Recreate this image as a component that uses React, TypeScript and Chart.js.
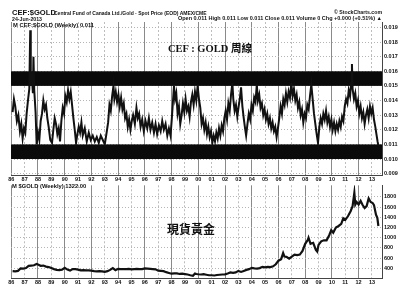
import React, { useEffect, useRef } from "react";
import { Chart, registerables } from "chart.js";

Chart.register(...registerables);

// CEF:$GOLD weekly ratio (decimal year, value)
const ratioDates = [
  1986.1, 1986.2, 1986.3, 1986.42, 1986.53, 1986.65, 1986.75, 1986.85, 1986.95, 1987.05,
  1987.15, 1987.25, 1987.35, 1987.42, 1987.46, 1987.55, 1987.62, 1987.66, 1987.72, 1987.82,
  1987.9, 1988.0, 1988.1, 1988.2, 1988.3, 1988.4, 1988.5, 1988.6, 1988.7, 1988.8,
  1988.92, 1989.05, 1989.15, 1989.25, 1989.35, 1989.45, 1989.55, 1989.65, 1989.75, 1989.85,
  1989.95, 1990.05, 1990.15, 1990.25, 1990.35, 1990.45, 1990.55, 1990.65, 1990.75, 1990.85,
  1990.95, 1991.05, 1991.15, 1991.25, 1991.35, 1991.5, 1991.65, 1991.8, 1991.95, 1992.1,
  1992.25, 1992.4, 1992.55, 1992.7, 1992.85, 1993.0, 1993.12, 1993.25, 1993.35, 1993.45,
  1993.55, 1993.65, 1993.72, 1993.82, 1993.92, 1994.02, 1994.12, 1994.22, 1994.32, 1994.42,
  1994.52, 1994.62, 1994.72, 1994.82, 1994.92, 1995.02, 1995.12, 1995.25, 1995.37, 1995.47,
  1995.57, 1995.68, 1995.8, 1995.92, 1996.05, 1996.18, 1996.3, 1996.42, 1996.55, 1996.68,
  1996.8, 1996.92, 1997.05, 1997.18, 1997.3, 1997.42, 1997.55, 1997.68, 1997.8, 1997.92,
  1998.02, 1998.1, 1998.18, 1998.26, 1998.35, 1998.45, 1998.55, 1998.65, 1998.75, 1998.85,
  1998.95, 1999.05, 1999.15, 1999.25, 1999.35, 1999.45, 1999.55, 1999.65, 1999.75, 1999.85,
  1999.95, 2000.05, 2000.15, 2000.25, 2000.35, 2000.45, 2000.55, 2000.65, 2000.75, 2000.85,
  2000.95, 2001.05, 2001.15, 2001.25, 2001.35, 2001.45, 2001.55, 2001.65, 2001.75, 2001.85,
  2001.95, 2002.05, 2002.15, 2002.25, 2002.35, 2002.45, 2002.55, 2002.62, 2002.72, 2002.82,
  2002.92, 2003.02, 2003.12, 2003.2, 2003.3, 2003.4, 2003.5, 2003.58, 2003.68, 2003.78,
  2003.88, 2003.98, 2004.08, 2004.18, 2004.28, 2004.38, 2004.46, 2004.56, 2004.66, 2004.76,
  2004.86, 2004.96, 2005.06, 2005.16, 2005.26, 2005.36, 2005.46, 2005.56, 2005.66, 2005.76,
  2005.86, 2005.96, 2006.06, 2006.16, 2006.26, 2006.36, 2006.46, 2006.56, 2006.66, 2006.76,
  2006.86, 2006.96, 2007.06, 2007.16, 2007.26, 2007.36, 2007.46, 2007.56, 2007.66, 2007.76,
  2007.86, 2007.96, 2008.06, 2008.16, 2008.26, 2008.36, 2008.46, 2008.56, 2008.66, 2008.76,
  2008.86, 2008.96, 2009.06, 2009.16, 2009.26, 2009.36, 2009.46, 2009.56, 2009.66, 2009.76,
  2009.86, 2009.96, 2010.06, 2010.16, 2010.26, 2010.36, 2010.46, 2010.56, 2010.66, 2010.76,
  2010.86, 2010.96, 2011.06, 2011.16, 2011.26, 2011.36, 2011.44, 2011.5, 2011.55, 2011.65,
  2011.75, 2011.85, 2011.95, 2012.05, 2012.15, 2012.25, 2012.35, 2012.45, 2012.55, 2012.65,
  2012.75, 2012.85, 2012.95, 2013.05, 2013.15, 2013.25, 2013.35, 2013.42, 2013.48,
];
const ratioValues = [
  0.0132, 0.0141, 0.0136, 0.0126, 0.013, 0.0119, 0.0124, 0.0114, 0.0121, 0.0118,
  0.0131, 0.014, 0.0148, 0.0188, 0.015, 0.0155, 0.0145, 0.017, 0.0147, 0.0132,
  0.011, 0.0118, 0.0113, 0.0126, 0.0131, 0.014, 0.0134, 0.0137, 0.0128, 0.0122,
  0.0113, 0.0111, 0.012, 0.0128, 0.0124, 0.0117, 0.0121, 0.0112, 0.0126, 0.0135,
  0.0131, 0.0143, 0.0139, 0.0147, 0.0141, 0.0146, 0.0137, 0.0128, 0.012, 0.0111,
  0.0117, 0.0122, 0.0118, 0.0125, 0.0116, 0.0121, 0.0112, 0.0118, 0.0113, 0.0116,
  0.0112, 0.0115, 0.0111, 0.0116, 0.0113, 0.011, 0.0117, 0.0125, 0.0137, 0.0133,
  0.0143, 0.015, 0.0141, 0.0146, 0.0139, 0.0144, 0.0136, 0.0142, 0.0134, 0.0138,
  0.0128, 0.0131, 0.0122, 0.0127, 0.012, 0.0126, 0.013, 0.0124, 0.0135, 0.0128,
  0.0131, 0.0122, 0.0127, 0.0119, 0.0126, 0.0121, 0.0128, 0.012, 0.0125, 0.0118,
  0.0124, 0.0117, 0.0123, 0.0119, 0.0126, 0.012, 0.0124, 0.0116, 0.0121, 0.0116,
  0.0128, 0.0139, 0.015, 0.0141, 0.0145, 0.0131, 0.0136, 0.0124, 0.013, 0.0138,
  0.0132, 0.0141, 0.0133, 0.0136, 0.0129, 0.0139, 0.0144, 0.0137, 0.0146, 0.014,
  0.015, 0.0141, 0.0135, 0.0124, 0.0128, 0.012, 0.0125, 0.0117, 0.0122, 0.0115,
  0.0119, 0.0111, 0.0116, 0.0112, 0.0118, 0.0114, 0.0121, 0.0116, 0.0123, 0.0119,
  0.0128, 0.0133, 0.0127, 0.0138, 0.0133, 0.0144, 0.0152, 0.0141, 0.0133, 0.0137,
  0.0129, 0.0136, 0.0142, 0.0149, 0.0136, 0.0128, 0.0121, 0.0116, 0.0124, 0.0131,
  0.0127, 0.0137, 0.0133, 0.0142, 0.0139, 0.0151, 0.014, 0.0144, 0.0135, 0.0138,
  0.013, 0.0134, 0.0127, 0.0131, 0.0124, 0.0128, 0.0121, 0.0125, 0.0119, 0.0122,
  0.0115, 0.0121, 0.0128, 0.0136, 0.0131, 0.0141, 0.0137, 0.0145, 0.0139, 0.0146,
  0.0142, 0.0152, 0.0143, 0.0148, 0.014, 0.0144, 0.0135, 0.0139, 0.013, 0.0134,
  0.0125, 0.0131, 0.0128, 0.0137, 0.0134, 0.0143, 0.0151, 0.0141, 0.0131, 0.0124,
  0.0117, 0.0111, 0.0122, 0.0128, 0.0124, 0.0131, 0.0127, 0.0133, 0.0125, 0.0129,
  0.0122, 0.0127, 0.012, 0.0125, 0.0119, 0.0124, 0.012, 0.0126, 0.0122, 0.0129,
  0.0126, 0.0136, 0.0141, 0.0138, 0.0147, 0.0143, 0.0152, 0.0165, 0.0148, 0.0141,
  0.0145, 0.0136, 0.014, 0.0131, 0.0136, 0.0128, 0.0132, 0.0124, 0.013, 0.0134,
  0.0128, 0.0136, 0.0131, 0.0135, 0.0127, 0.0122, 0.0116, 0.0112, 0.0109,
];

// $GOLD weekly (decimal year, USD)
const goldDates = [
  1986.1, 1986.3, 1986.5, 1986.7, 1986.9, 1987.1, 1987.3, 1987.5, 1987.7, 1987.9,
  1988.0, 1988.2, 1988.4, 1988.6, 1988.8, 1989.0, 1989.2, 1989.4, 1989.6, 1989.8,
  1990.0, 1990.2, 1990.4, 1990.6, 1990.8, 1991.0, 1991.2, 1991.4, 1991.6, 1991.8,
  1992.0, 1992.2, 1992.4, 1992.6, 1992.8, 1993.0, 1993.2, 1993.4, 1993.6, 1993.8,
  1994.0, 1994.2, 1994.4, 1994.6, 1994.8, 1995.0, 1995.2, 1995.4, 1995.6, 1995.8,
  1996.0, 1996.2, 1996.4, 1996.6, 1996.8, 1997.0, 1997.2, 1997.4, 1997.6, 1997.8,
  1998.0, 1998.2, 1998.4, 1998.6, 1998.8, 1999.0, 1999.2, 1999.4, 1999.6, 1999.75,
  1999.85, 2000.0, 2000.2, 2000.4, 2000.6, 2000.8, 2001.0, 2001.2, 2001.4, 2001.6,
  2001.8, 2002.0, 2002.2, 2002.4, 2002.6, 2002.8, 2003.0, 2003.2, 2003.4, 2003.6,
  2003.8, 2004.0, 2004.2, 2004.4, 2004.6, 2004.8, 2005.0, 2005.2, 2005.4, 2005.6,
  2005.8, 2006.0, 2006.2, 2006.35, 2006.45, 2006.6, 2006.8, 2007.0, 2007.2, 2007.4,
  2007.6, 2007.8, 2008.0, 2008.2, 2008.25, 2008.4, 2008.6, 2008.8, 2008.9, 2009.0,
  2009.2, 2009.4, 2009.6, 2009.8, 2009.95, 2010.1, 2010.3, 2010.5, 2010.7, 2010.85,
  2011.0, 2011.2, 2011.4, 2011.55, 2011.68, 2011.75, 2011.85, 2012.0, 2012.15, 2012.3,
  2012.45, 2012.6, 2012.75, 2012.9, 2013.05, 2013.15, 2013.3, 2013.4, 2013.48,
];
const goldValues = [
  345, 340, 350, 400, 395, 405, 450, 455, 460, 485,
  475, 450, 455, 435, 425, 405, 385, 370, 365, 375,
  410, 375, 355, 385, 385, 375, 360, 365, 360, 360,
  355, 345, 340, 345, 340, 330, 345, 370, 405, 365,
  390, 385, 385, 385, 390, 380, 385, 390, 385, 385,
  400, 395, 390, 385, 380, 355, 350, 345, 325, 310,
  295, 300, 300, 290, 295, 287, 280, 265, 255, 300,
  290, 285, 280, 285, 275, 265, 265, 260, 270, 275,
  280, 282, 300, 320, 310, 320, 350, 330, 350, 370,
  385, 410, 400, 395, 405, 430, 420, 430, 425, 440,
  480, 550, 580, 700, 630, 625, 590, 630, 670, 660,
  670, 740, 880, 960, 1000, 880, 900, 760, 730, 860,
  930, 950, 950, 1050, 1150, 1100, 1200, 1230, 1270, 1380,
  1350, 1420, 1520, 1620, 1880, 1650, 1700, 1650, 1720, 1640,
  1580, 1620, 1770, 1700, 1680, 1640, 1450, 1390, 1230,
];

const yearTicks = [
  1986, 1987, 1988, 1989, 1990, 1991, 1992, 1993, 1994, 1995, 1996, 1997, 1998, 1999,
  2000, 2001, 2002, 2003, 2004, 2005, 2006, 2007, 2008, 2009, 2010, 2011, 2012, 2013,
];
const ratioTicks = [0.009, 0.01, 0.011, 0.012, 0.013, 0.014, 0.015, 0.016, 0.017, 0.018, 0.019];
const goldTicks = [400, 600, 800, 1000, 1200, 1400, 1600, 1800];
const upperBand = [0.015, 0.016];
const lowerBand = [0.01, 0.011];

const SANS = '"Liberation Sans", Arial, sans-serif';

function xScale(height: number) {
  return {
    type: "linear" as const,
    min: 1985.98,
    max: 2013.75,
    afterBuildTicks: (s: any) => {
      s.ticks = yearTicks.map((v) => ({ value: v }));
    },
    afterFit: (s: any) => {
      s.height = height;
    },
    ticks: {
      autoSkip: false,
      maxRotation: 0,
      padding: 1,
      color: "#111",
      font: { family: SANS, size: 5.5, weight: "bold" as const },
      callback: (v: any) => String(Number(v) % 100).padStart(2, "0"),
    },
    grid: {
      drawTicks: false,
      color: (c: any) => (c.tick && c.tick.value % 2 === 0 ? "#8a8a8a" : "#bdbdbd"),
      lineWidth: 1,
    },
    border: {
      display: true,
      color: "#444",
      dash: (c: any) => (c.tick && c.tick.value % 2 === 0 ? [] : [2, 2]),
    },
  };
}

function yScale(min: number, max: number, ticks: number[], fmt: (v: number) => string) {
  return {
    position: "right" as const,
    min,
    max,
    afterBuildTicks: (s: any) => {
      s.ticks = ticks.map((v) => ({ value: v }));
    },
    afterFit: (s: any) => {
      s.width = 32;
    },
    ticks: {
      padding: 2,
      color: "#111",
      font: { family: SANS, size: 5.5, weight: "bold" as const },
      callback: (v: any) => fmt(Number(v)),
    },
    grid: { drawTicks: false, color: "#b5b5b5", lineWidth: 1 },
    border: { display: true, color: "#444", dash: [1, 2] },
  };
}

const bandsPlugin = {
  id: "bands",
  beforeDatasetsDraw(chart: any) {
    const { ctx, chartArea, scales } = chart;
    const y = scales.y;
    ctx.save();
    ctx.fillStyle = "#0a0a0a";
    for (const band of [upperBand, lowerBand]) {
      const top = y.getPixelForValue(band[1]);
      const bot = y.getPixelForValue(band[0]);
      ctx.fillRect(chartArea.left, top, chartArea.right - chartArea.left, bot - top);
    }
    ctx.restore();
  },
};

function txt(left: number, top: number, size: number, extra: any = {}): React.CSSProperties {
  return {
    position: "absolute",
    left,
    top,
    fontSize: size,
    fontWeight: "bold",
    fontFamily: SANS,
    lineHeight: 1,
    whiteSpace: "nowrap",
    color: "#111",
    ...extra,
  };
}

export default function App() {
  const topRef = useRef<HTMLCanvasElement>(null);
  const botRef = useRef<HTMLCanvasElement>(null);

  useEffect(() => {
    const c1 = new Chart(topRef.current as HTMLCanvasElement, {
      type: "line",
      data: {
        datasets: [
          {
            data: ratioDates.map((d, i) => ({ x: d, y: ratioValues[i] })),
            borderColor: "#111",
            borderWidth: 2,
            pointRadius: 0,
            tension: 0,
          },
        ],
      },
      options: {
        animation: false,
        responsive: false,
        layout: { padding: { left: 11, top: 22, right: 0, bottom: 0 } },
        plugins: { legend: { display: false }, tooltip: { enabled: false } },
        scales: {
          x: xScale(11) as any,
          y: yScale(0.008906, 0.01937, ratioTicks, (v) => v.toFixed(3)) as any,
        },
      },
      plugins: [bandsPlugin],
    });
    const c2 = new Chart(botRef.current as HTMLCanvasElement, {
      type: "line",
      data: {
        datasets: [
          {
            data: goldDates.map((d, i) => ({ x: d, y: goldValues[i] })),
            borderColor: "#111",
            borderWidth: 2.2,
            pointRadius: 0,
            tension: 0,
          },
        ],
      },
      options: {
        animation: false,
        responsive: false,
        layout: { padding: { left: 11, top: 2, right: 0, bottom: 0 } },
        plugins: { legend: { display: false }, tooltip: { enabled: false } },
        scales: {
          x: xScale(25) as any,
          y: yScale(211, 2027, goldTicks, (v) => String(v)) as any,
        },
      },
    });
    return () => {
      c1.destroy();
      c2.destroy();
    };
  }, []);

  return (
    <div
      style={{
        position: "fixed",
        left: 0,
        top: 0,
        width: 414,
        height: 303,
        background: "#fff",
        overflow: "hidden",
      }}
    >
      <canvas
        ref={topRef}
        width={414}
        height={186}
        style={{ position: "absolute", left: 0, top: 0, width: 414, height: 186 }}
      />
      <canvas
        ref={botRef}
        width={414}
        height={123}
        style={{ position: "absolute", left: 0, top: 180, width: 414, height: 123 }}
      />
      <div style={txt(12, 8.5, 7.6)}>CEF:$GOLD</div>
      <div style={txt(54, 10.5, 5)}>Central Fund of Canada Ltd./Gold - Spot Price (EOD) AMEX/CME</div>
      <div style={txt(12, 16.5, 5.2)}>24-Jun-2013</div>
      <div style={txt(0, 9.5, 5.2, { left: undefined, right: 32 })}>© StockCharts.com</div>
      <div style={txt(0, 16, 5.5, { left: undefined, right: 32 })}>
        Open 0.011 High 0.011 Low 0.011 Close 0.011 Volume 0 Chg +0.000 (+0.51%) ▲
      </div>
      <div style={txt(13, 22.5, 5.8)}>M CEF:$GOLD (Weekly) 0.011</div>
      <div style={txt(12, 183.5, 5.8)}>M $GOLD (Weekly) 1322.00</div>
      <div
        style={txt(168, 43, 10.5, {
          fontFamily: '"Liberation Serif", "Noto Sans CJK TC", serif',
        })}
      >
        CEF : GOLD <span style={{ fontFamily: '"Noto Sans CJK TC", sans-serif' }}>周線</span>
      </div>
      <div style={txt(167, 223, 12, { fontFamily: '"Noto Sans CJK TC", sans-serif' })}>現貨黃金</div>
    </div>
  );
}
